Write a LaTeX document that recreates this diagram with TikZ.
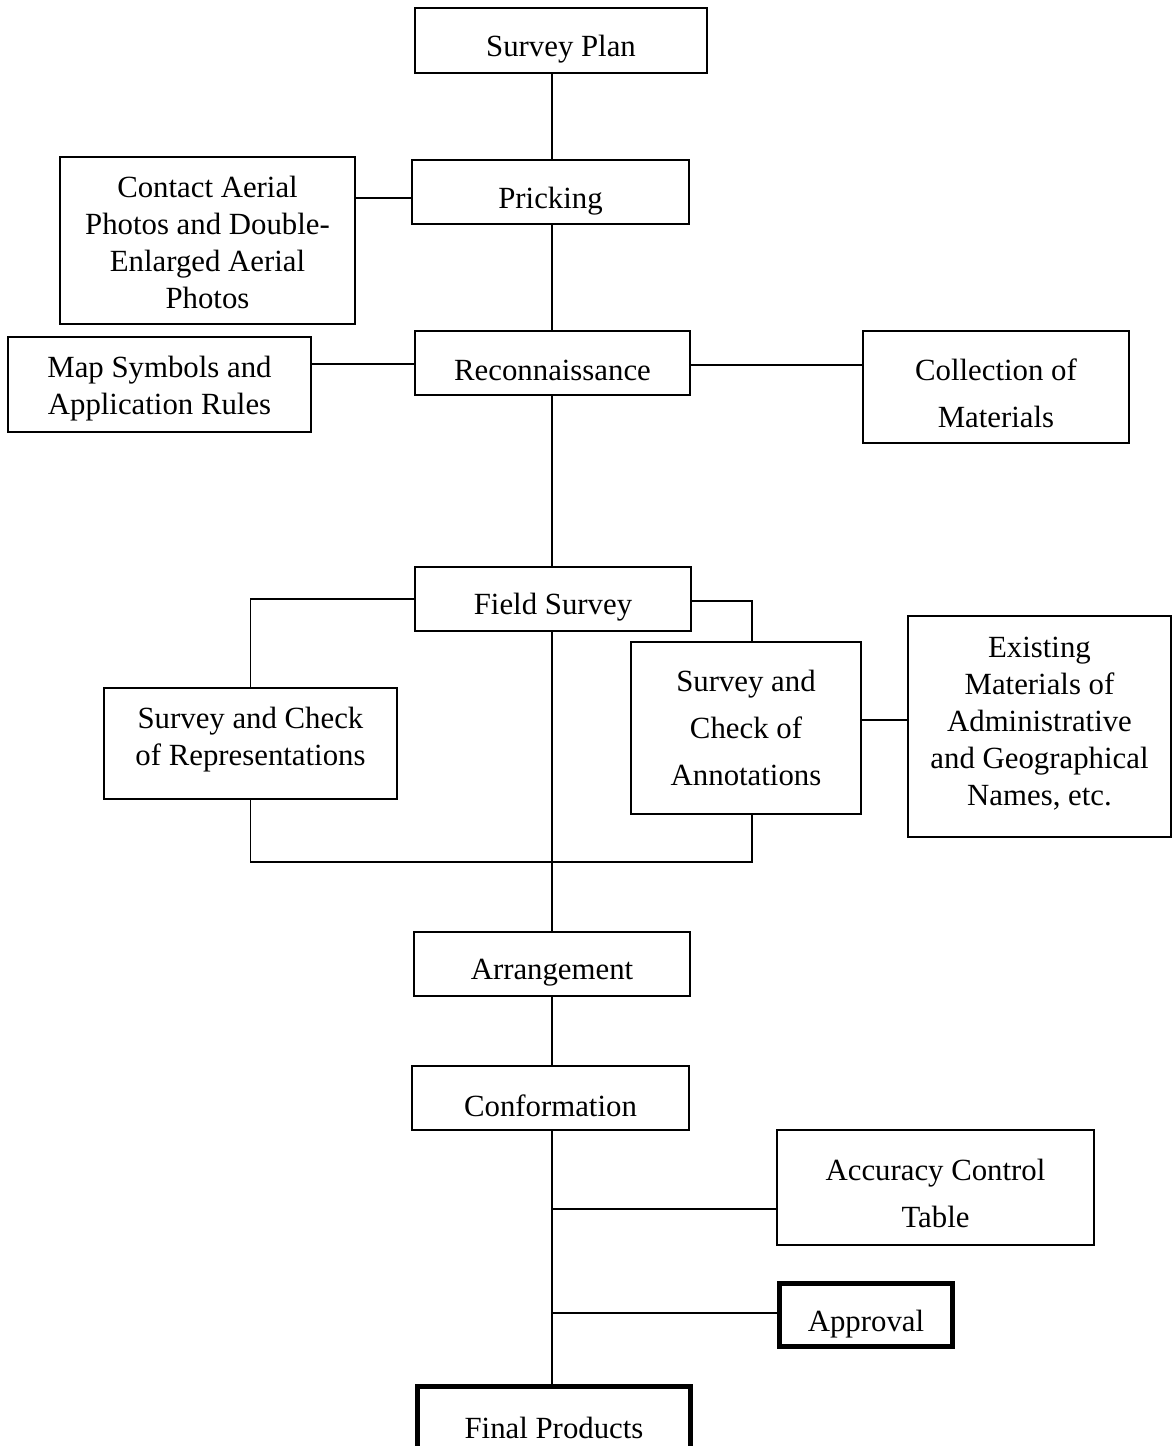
\documentclass[tikz,border=0pt]{standalone}
\usepackage{fontspec}
\setmainfont{Liberation Serif}
\begin{document}
\begin{tikzpicture}[x=0.5pt,y=-0.5pt,
  box/.style={draw, line width=0.9pt, inner sep=0pt, align=center,
    font=\fontsize{15.4}{18.5}\selectfont},
  wide/.style={font=\fontsize{15.4}{23.5}\selectfont},
  heavy/.style={line width=2.5pt},
  lift/.style={text height=#1},
  link/.style={line width=0.9pt}]
\useasboundingbox (0,0) rectangle (1173,1446);
\clip (0,0) rectangle (1173,1446);

% process chain
\node[box, lift=19.5pt, minimum width=146pt,   minimum height=32.5pt] (plan)  at (561,40.5)   {Survey Plan};
\node[box, lift=20pt,   minimum width=138.5pt, minimum height=32pt]   (prick) at (550.5,192)   {Pricking};
\node[box, lift=17.5pt, minimum width=137.5pt, minimum height=32pt]   (recon) at (552.5,363)   {Reconnaissance};
\node[box, lift=18.5pt, minimum width=138pt,   minimum height=32pt]   (field) at (553,599)     {Field Survey};
\node[box, lift=19pt,   minimum width=138pt,   minimum height=32pt]   (arr)   at (552,964)     {Arrangement};
\node[box, lift=18.5pt, minimum width=138.5pt, minimum height=32pt]   (conf)  at (550.5,1098)  {Conformation};
\node[box, heavy, minimum width=136.5pt, minimum height=42pt] (final) at (554,1428) {Final Products};

% side inputs and tasks (struts on first or last line set the text block's vertical place)
\node[box, minimum width=147.5pt, minimum height=83.5pt] (contact) at (207.5,240.5)
  {\rule{0pt}{12.5pt}Contact Aerial\\Photos and Double-\\Enlarged Aerial\\Photos};
\node[box, minimum width=151.5pt, minimum height=47.5pt] (map) at (159.5,384.5)
  {\rule{0pt}{14.5pt}Map Symbols and\\Application Rules};
\node[box, wide, minimum width=133pt, minimum height=56pt] (coll) at (996,387)
  {\rule{0pt}{17.5pt}Collection of\\Materials};
\node[box, minimum width=146.5pt, minimum height=55.5pt] (rep) at (250.5,743.5)
  {Survey and Check\\of Representations\rule[-7.3pt]{0pt}{0pt}};
\node[box, wide, minimum width=115pt, minimum height=86pt] (ann) at (746,728)
  {Survey and\\Check of\\Annotations};
\node[box, minimum width=131.5pt, minimum height=110.5pt] (exist) at (1039.5,726.5)
  {Existing\\Materials of\\Administrative\\and Geographical\\Names, etc.\rule[-5.2pt]{0pt}{0pt}};
\node[box, wide, minimum width=158.5pt, minimum height=57.5pt] (acc) at (935.5,1187.5)
  {\rule{0pt}{16.5pt}Accuracy Control\\Table};
\node[box, heavy, lift=20pt, minimum width=86.5pt, minimum height=31.5pt] (appr) at (866,1315)
  {Approval};

% spine and branch points
\coordinate (sp) at (552,0);
\coordinate (annx) at (752,0);
\coordinate (joinR) at (752,862);
\coordinate (accj) at (552,1209);
\coordinate (apprj) at (552,1313);

\draw[link] (plan.south -| sp) -- (prick.north -| sp);
\draw[link] (prick.south -| sp) -- (recon.north -| sp);
\draw[link] (recon.south -| sp) -- (field.north -| sp);
\draw[link] (field.south -| sp) -- (arr.north -| sp);
\draw[link] (arr.south -| sp) -- (conf.north -| sp);
\draw[link] (conf.south -| sp) -- (final.north -| sp);

\draw[link] (contact.east |- 0,198) -- (prick.west |- 0,198);
\draw[link] (map.east |- 0,364) -- (recon.west |- 0,364);
\draw[link] (recon.east |- 0,365) -- (coll.west |- 0,365);

\draw[link] (field.west) -| (rep.north);
\draw[link] (field.east |- 0,601) -| (ann.north -| annx);
\draw[link] (rep.south) |- (joinR) -- (ann.south -| annx);
\draw[link] (ann.east |- 0,720) -- (exist.west |- 0,720);

\draw[link] (accj) -- (acc.west |- accj);
\draw[link] (apprj) -- (appr.west |- apprj);
\end{tikzpicture}
\end{document}
